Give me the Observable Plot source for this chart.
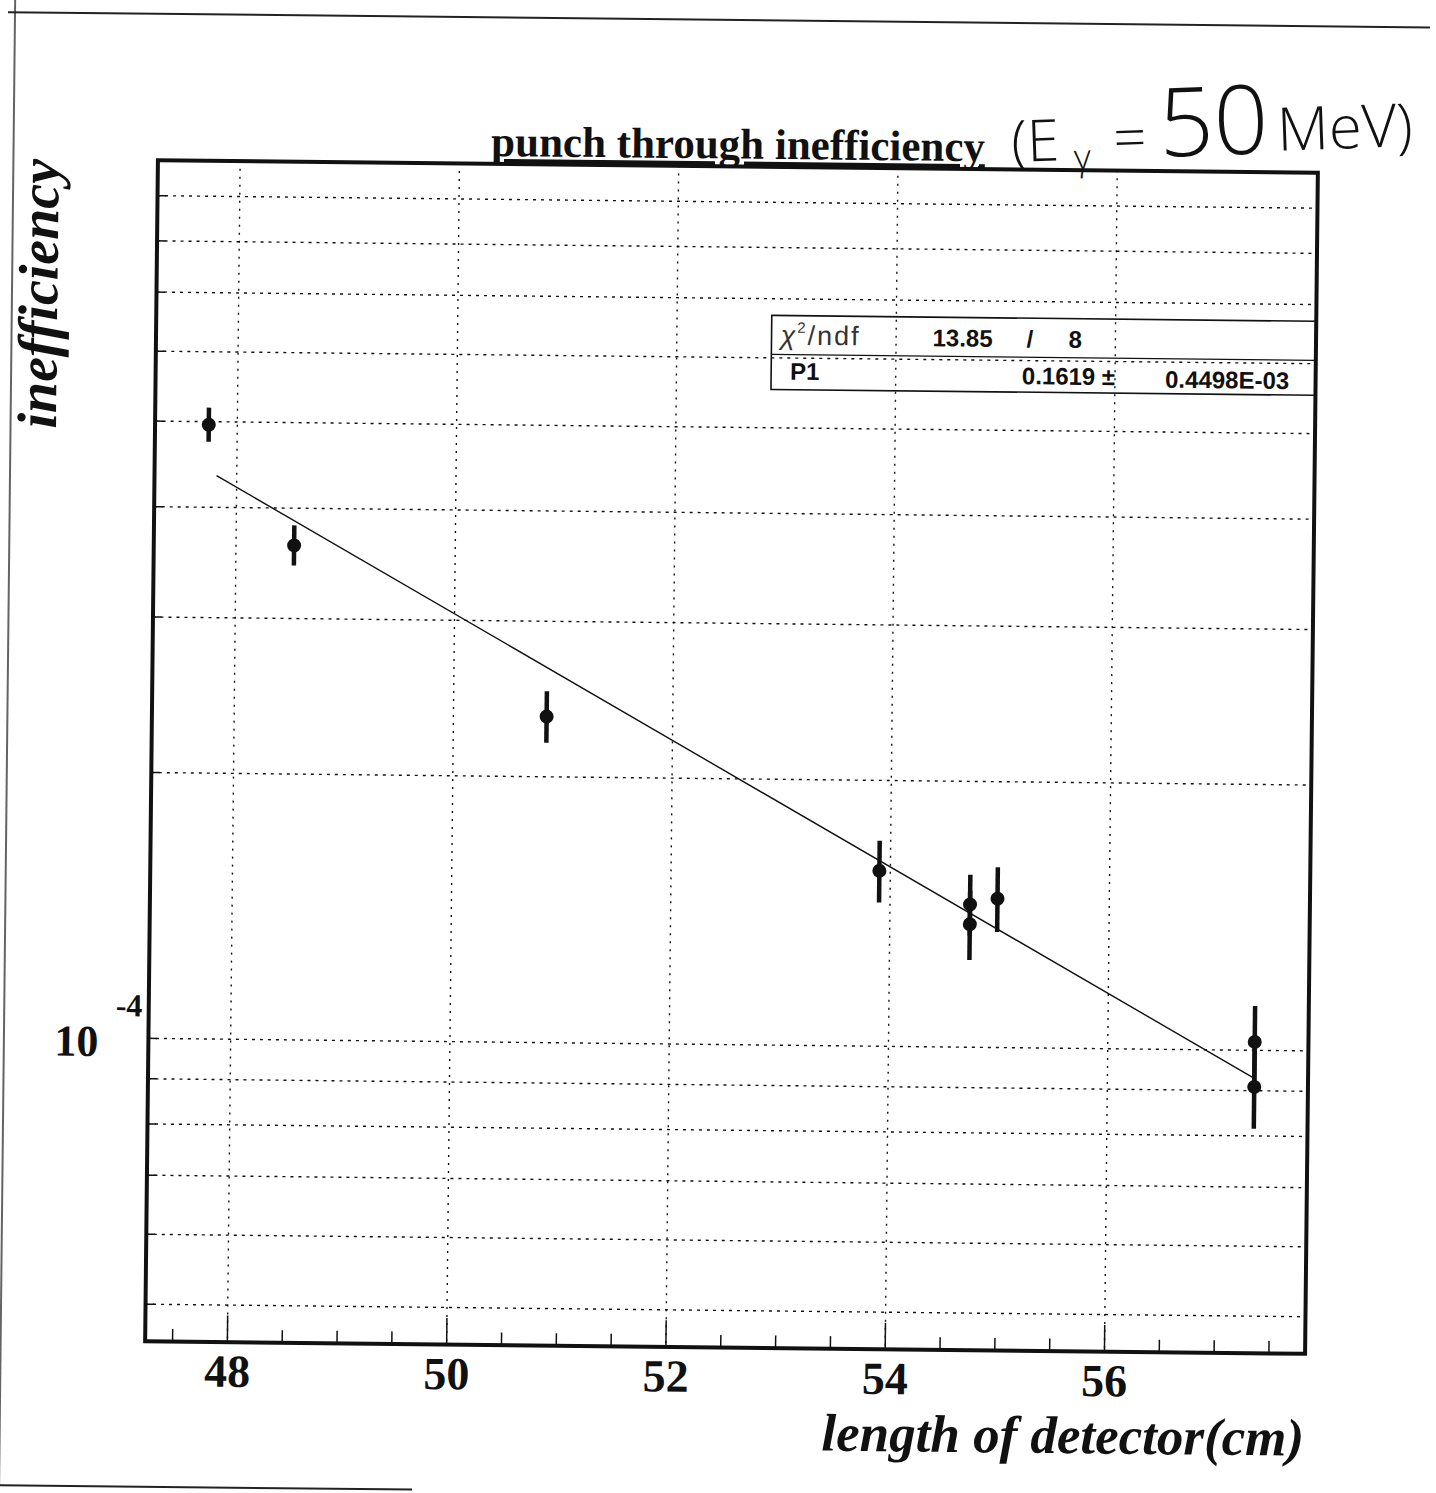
<!DOCTYPE html>
<html>
<head>
<meta charset="utf-8">
<script src="https://cdn.jsdelivr.net/npm/d3@7"></script>
<script src="https://cdn.jsdelivr.net/npm/@observablehq/plot@0.6"></script>
<style>
  html, body { margin: 0; padding: 0; background: #fff; }
  #page { position: relative; width: 1436px; height: 1493px; overflow: hidden; background: #fff; }
  /* the printed sheet sits slightly skewed on the page */
  #sheet { position: absolute; left: 0; top: 0; width: 1436px; height: 1493px;
           transform: rotate(0.62deg); transform-origin: 730px 757px; }
  #sheet svg { position: absolute; left: 0; top: 0; }
  .edge { position: absolute; background: #222; }
  #note { position: absolute; left: 990px; top: 40px; }
</style>
</head>
<body>
<div id="page">
  <div id="sheet">
    <div class="edge" style="left:0; top:19px; width:1422px; height:1.5px;"></div>
    <div class="edge" style="left:6px; top:0; width:1.5px; height:1493px; opacity:0.7;"></div>
    <div class="edge" style="left:0; top:1492px; width:420px; height:1.5px;"></div>
    <div id="chart"></div>
  </div>
  <svg id="note" width="446" height="180">
    <g transform="rotate(-2 25 122)" fill="#111"
       font-family="'Open Sans', 'DejaVu Sans', sans-serif" font-weight="300">
      <text x="22" y="122" font-size="58">(E</text>
      <text x="84" y="132" font-size="36">γ</text>
      <text x="124" y="122" font-size="58">=</text>
      <text x="170" y="122" font-size="96">50</text>
      <text x="288" y="120" font-size="60">MeV)</text>
    </g>
  </svg>
</div>
<script>
// Punch-through inefficiency versus detector length, with an exponential fit exp(-P1 * x)
const lengthCm = [47.74, 48.53, 50.85, 53.90, 54.73, 54.73, 54.98, 57.34, 57.34];
const inefficiency = [4.96e-4, 3.63e-4, 2.34e-4, 1.58e-4, 1.451e-4, 1.378e-4, 1.474e-4, 1.022e-4, 0.909e-4];
const inefficiencyErr = [0.22e-4, 0.19e-4, 0.157e-4, 0.127e-4, 0.115e-4, 0.124e-4, 0.124e-4, 0.099e-4, 0.095e-4];

const majorTicksX = [48, 50, 52, 54, 56];
const minorTicksX = [47.5, 48.5, 49, 49.5, 50.5, 51, 51.5, 52.5, 53, 53.5, 54.5, 55, 55.5, 56.5, 57, 57.5];
const gridY = [5e-5, 6e-5, 7e-5, 8e-5, 9e-5, 1e-4, 2e-4, 3e-4, 4e-4, 5e-4, 6e-4, 7e-4, 8e-4, 9e-4];
const labelY = [1e-4];

// fit results
const chi2 = "13.85";
const ndf = "8";
const fitP1 = 0.1619;
const fitP1Text = "0.1619";
const fitP1Err = "0.4498E-03";
const fitRange = [47.82, 57.34];

const points = lengthCm.map((x, i) => ({x, y: inefficiency[i], e: inefficiencyErr[i]}));
const fitCurve = fitRange.map(x => ({x, y: Math.exp(-fitP1 * x)}));

const W = 1436, H = 1493;
const mL = 151, mR = 125, mT = 166, mB = 146;
const innerW = W - mL - mR, innerH = H - mT - mB;
const serif = "'Liberation Serif', 'Times New Roman', serif";
const sans = "'Liberation Sans', Arial, sans-serif";
const ink = "#111";

const chart = Plot.plot({
  width: W, height: H,
  marginLeft: mL, marginRight: mR, marginTop: mT, marginBottom: mB,
  style: {background: "transparent", fontFamily: serif, color: ink},
  x: {type: "linear", domain: [47.25, 57.83]},
  y: {type: "log", domain: [4.54e-5, 9.87e-4], axis: null},
  marks: [
    // dotted grid
    Plot.ruleY(gridY, {y: d => d, stroke: ink, strokeWidth: 1.4, strokeDasharray: "3,5"}),
    Plot.ruleX(majorTicksX, {x: d => d, stroke: ink, strokeWidth: 1.4, strokeDasharray: "2,6"}),
    // inner ticks
    Plot.ruleX(minorTicksX, {x: d => d, insetTop: innerH - 12, stroke: ink, strokeWidth: 1.5}),
    Plot.ruleX(majorTicksX, {x: d => d, insetTop: innerH - 26, stroke: ink, strokeWidth: 1.5}),
    Plot.ruleY(gridY, {y: d => d, insetRight: innerW - 9, stroke: ink, strokeWidth: 1.5}),
    // x tick labels
    Plot.axisX({ticks: majorTicksX, tickSize: 0, tickPadding: 12, label: null,
      fontSize: 46, fontWeight: "bold", fontFamily: serif, tickFormat: d => String(d)}),
    // y tick label 10^-4
    Plot.text(labelY, {y: d => d, frameAnchor: "left", text: () => "10", dx: -72, dy: 4,
      textAnchor: "middle", fontSize: 44, fontWeight: "bold", fontFamily: serif, fill: ink}),
    Plot.text(labelY, {y: d => d, frameAnchor: "left", text: () => "-4", dx: -33, dy: -32,
      textAnchor: "start", fontSize: 32, fontWeight: "bold", fontFamily: serif, fill: ink}),
    // axis titles
    Plot.text(["inefficiency"], {frameAnchor: "top-left", dx: -117, dy: 0, rotate: -90,
      textAnchor: "end", lineAnchor: "middle", fontSize: 56, fontWeight: "bold", fontStyle: "italic",
      fontFamily: serif, fill: ink}),
    Plot.text(["length of detector(cm)"], {frameAnchor: "bottom-right", dx: 0, dy: 85,
      textAnchor: "end", lineAnchor: "middle", fontSize: 53, fontWeight: "bold", fontStyle: "italic",
      fontFamily: serif, fill: ink}),
    // title
    Plot.text(["punch through inefficiency"], {frameAnchor: "top", dy: -8, lineAnchor: "bottom",
      fontSize: 43, fontWeight: "bold", fontFamily: serif, fill: ink}),
    // fit curve
    Plot.line(fitCurve, {x: "x", y: "y", stroke: ink, strokeWidth: 1.4}),
    // measurements with error bars
    Plot.ruleX(points, {x: "x", y1: d => d.y - d.e, y2: d => d.y + d.e, stroke: ink, strokeWidth: 4.5}),
    Plot.dot(points, {x: "x", y: "y", r: 7, fill: ink, stroke: null}),
    Plot.frame({stroke: ink, strokeWidth: 4})
  ]
});

document.getElementById("chart").appendChild(chart);

const svg = d3.select(chart);
svg.selectAll("text").filter(function () { return this.textContent === "punch through inefficiency"; })
  .style("text-decoration", "underline");

// fit statistics box
const box = {x0: 767, x1: W - mR, y0: 315, ymid: 354, y1: 389};
const g = svg.append("g").attr("fill", ink).attr("text-anchor", "start");
g.append("rect").attr("x", box.x0).attr("y", box.y0)
  .attr("width", box.x1 - box.x0).attr("height", box.y1 - box.y0)
  .attr("fill", "none").attr("stroke", ink).attr("stroke-width", 1.6);
g.append("line").attr("x1", box.x0).attr("x2", box.x1).attr("y1", box.ymid).attr("y2", box.ymid)
  .attr("stroke", ink).attr("stroke-width", 1.2);

const chiLabel = g.append("text").attr("x", 776).attr("y", 344).attr("text-anchor", "start")
  .attr("font-family", sans).attr("font-size", 27).attr("letter-spacing", 2).attr("fill", "#333");
chiLabel.append("tspan").attr("font-style", "italic").text("χ");
chiLabel.append("tspan").attr("font-size", 15).attr("dy", -12).text("2");
chiLabel.append("tspan").attr("dy", 12).text("/ndf");

const bold = (x, y, t, anchor = "start") => g.append("text").attr("x", x).attr("y", y)
  .attr("text-anchor", anchor).attr("font-family", sans).attr("font-weight", "bold")
  .attr("font-size", 24).text(t);
bold(928, 344, chi2);
bold(1022, 344, "/");
bold(1064, 344, ndf);
bold(786, 379, "P1");
bold(1111, 381, fitP1Text + " ±", "end");
bold(1161, 383, fitP1Err);
</script>
</body>
</html>
